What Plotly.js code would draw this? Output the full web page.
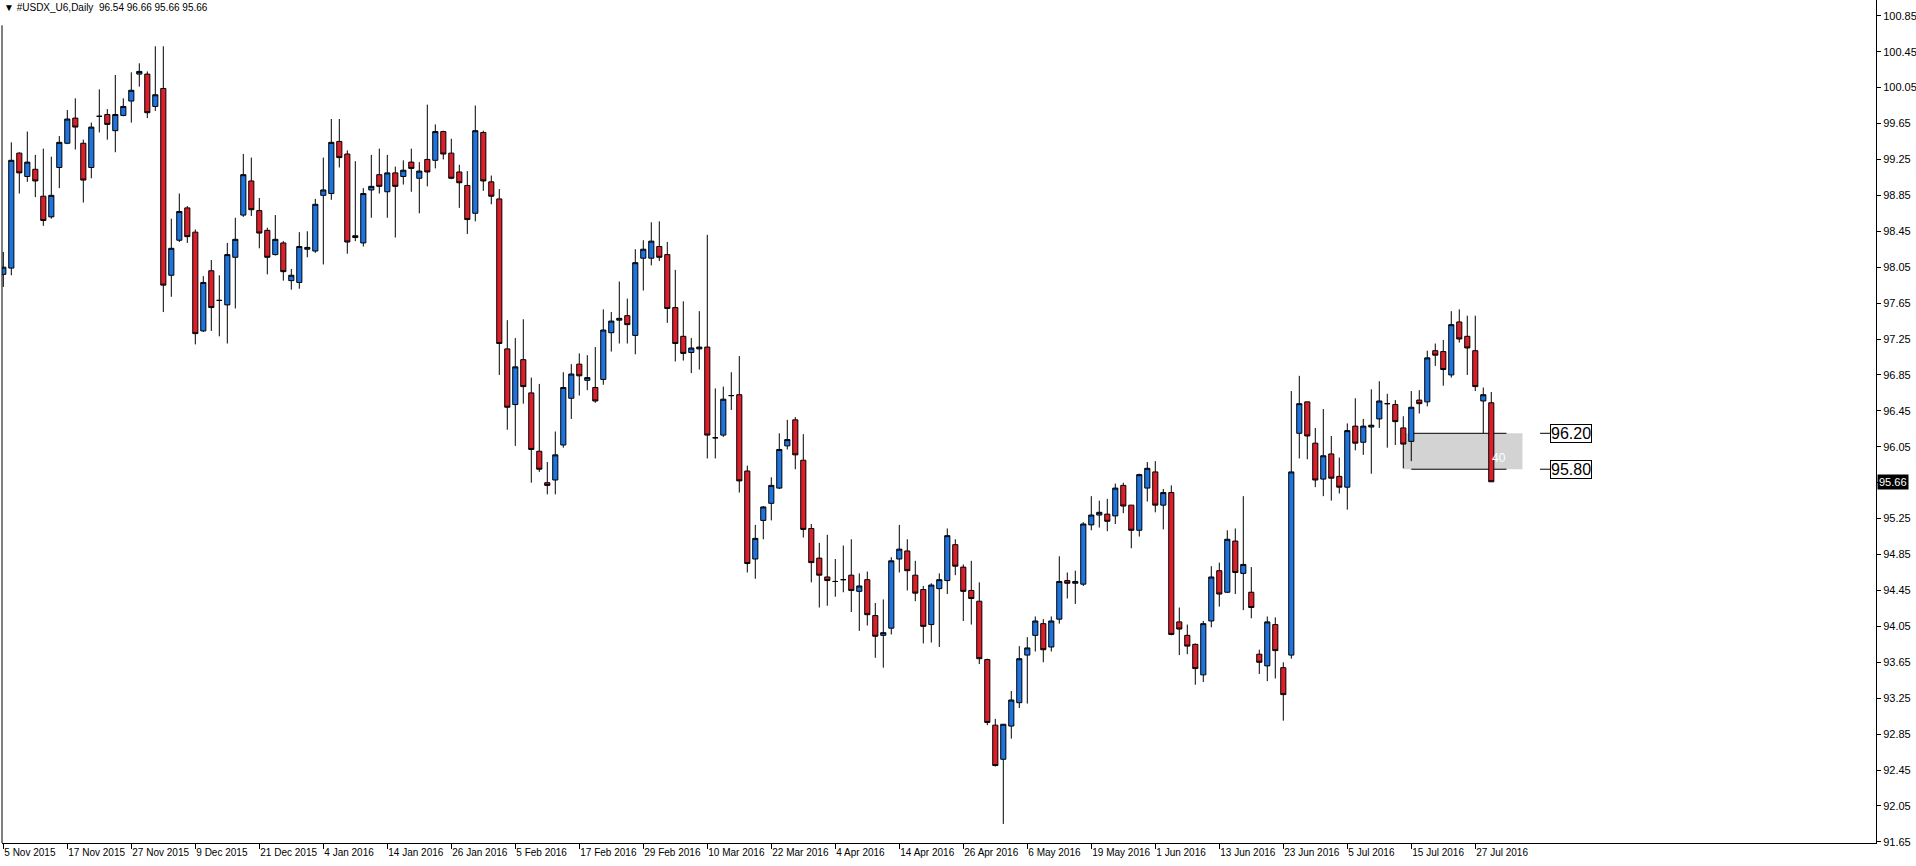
<!DOCTYPE html>
<html>
<head>
<meta charset="utf-8">
<script src="https://cdn.plot.ly/plotly-3.0.1.min.js"></script>
<style>
html,body{margin:0;padding:0;background:#fff;}
#chart{width:1916px;height:866px;}
</style>
</head>
<body>
<div id="chart"></div>
<script>
// Daily OHLC for #USDX_U6 (5 Nov 2015 .. 29 Jul 2016)
const openP = [
97.97,98.04,99.32,99.06,99.14,98.84,98.61,99.16,99.43,99.71,
99.43,99.16,99.73,99.75,99.57,99.74,99.90,100.20,100.20,99.84,
100.04,97.96,98.35,98.71,98.44,97.34,98.01,97.68,97.63,98.16,
98.63,99.01,98.68,98.46,98.19,98.32,97.90,97.88,98.25,98.23,
98.85,98.87,99.45,99.31,98.38,98.32,98.91,99.08,98.89,99.10,
99.06,99.22,99.04,99.25,99.24,99.56,99.32,99.11,98.96,98.65,
99.55,99.00,98.81,97.14,96.52,97.02,96.65,96.00,95.65,95.68,
96.07,96.59,96.97,96.79,96.71,96.80,97.32,97.46,97.51,97.29,
98.15,98.15,98.28,98.19,97.60,97.28,97.10,97.14,97.16,96.15,
96.18,96.62,96.63,95.78,94.80,95.23,95.42,95.59,96.06,96.35,
95.90,95.14,94.81,94.60,94.55,94.57,94.62,94.44,94.57,94.17,
93.95,94.03,94.80,94.89,94.62,94.46,94.07,94.47,94.56,94.96,
94.71,94.45,94.33,93.68,92.95,92.57,92.94,93.20,93.73,93.95,
94.08,93.82,94.13,94.56,94.53,94.52,95.18,95.29,95.30,95.28,
95.62,95.40,95.12,95.59,95.77,95.40,95.54,94.10,93.95,93.85,
93.51,94.11,94.67,94.43,95.00,94.64,94.43,93.74,93.61,94.07,
93.59,93.73,96.20,96.55,96.09,95.69,95.97,95.72,95.60,96.28,
96.10,96.27,96.36,96.53,96.52,96.26,96.11,96.57,96.55,97.12,
97.11,96.85,97.44,97.28,97.12,96.56,96.54
];
const highP = [
98.22,99.44,99.33,99.56,99.30,99.37,99.28,99.51,99.80,99.93,
99.47,99.66,100.03,99.81,100.19,99.93,100.22,100.32,100.23,100.51,
100.51,98.59,98.87,98.73,98.47,97.95,98.13,97.96,98.32,98.60,
99.31,99.27,98.82,98.49,98.63,98.34,98.03,98.44,98.45,98.81,
99.27,99.70,99.70,99.35,99.23,98.93,99.30,99.37,99.30,99.17,
99.24,99.37,99.22,99.86,99.64,99.57,99.48,99.19,99.12,99.85,
99.57,99.07,98.92,97.46,97.26,97.47,96.82,96.75,95.88,96.22,
96.88,96.97,97.09,97.07,97.16,97.58,97.55,97.89,97.70,98.25,
98.35,98.55,98.56,98.33,98.02,97.67,97.26,97.56,98.41,96.70,
96.72,96.88,97.06,95.84,95.18,95.39,95.71,96.20,96.35,96.38,
96.19,95.19,94.98,95.07,94.80,94.95,95.02,94.64,94.66,94.31,
94.35,94.82,95.18,95.02,94.78,94.50,94.53,94.64,95.14,95.02,
94.74,94.78,94.54,93.69,93.02,92.96,93.33,93.83,93.93,94.16,
94.13,94.16,94.83,94.65,94.67,95.21,95.50,95.45,95.47,95.64,
95.65,95.40,95.75,95.88,95.89,95.58,95.62,94.26,94.07,93.86,
94.11,94.72,94.76,95.12,95.14,95.50,94.71,93.79,94.16,94.15,
93.65,96.67,96.84,96.55,96.26,96.47,96.17,95.93,96.31,96.59,
96.36,96.69,96.78,96.64,96.57,96.39,96.67,96.68,97.12,97.20,
97.24,97.56,97.58,97.51,97.51,96.71,96.66
];
const lowP = [
97.83,97.96,98.87,99.00,98.83,98.51,98.59,98.93,99.42,99.36,
98.77,99.04,99.55,99.47,99.33,99.73,99.66,100.06,99.71,99.79,
97.55,97.72,98.33,98.32,97.19,97.33,97.34,97.28,97.20,97.59,
98.61,98.62,98.26,97.97,98.18,97.90,97.80,97.81,98.16,98.21,
98.08,98.80,99.16,98.20,98.34,98.28,98.60,98.87,98.60,98.38,
98.97,98.89,98.65,98.95,99.15,99.25,99.03,98.71,98.42,98.56,
98.90,98.75,96.85,96.24,96.06,96.53,95.65,95.77,95.52,95.52,
96.04,96.36,96.62,96.68,96.54,96.74,97.11,97.20,97.20,97.08,
97.79,98.07,98.12,97.43,97.00,97.01,96.87,96.91,95.92,95.92,
96.16,96.46,95.54,94.65,94.58,95.02,95.23,95.58,96.02,95.80,
95.04,94.54,94.26,94.28,94.38,94.43,94.21,94.00,94.06,93.70,
93.59,93.96,94.65,94.45,94.33,93.86,93.87,93.82,94.41,94.62,
94.11,94.07,93.63,92.95,92.49,91.85,92.80,93.14,93.19,93.77,
93.65,93.77,94.08,94.36,94.30,94.50,95.12,95.15,95.11,95.19,
95.31,94.92,95.05,95.44,95.32,95.13,93.95,93.73,93.74,93.40,
93.43,94.04,94.27,94.42,94.41,94.23,94.14,93.52,93.44,93.47,
93.00,93.69,95.92,95.91,95.60,95.50,95.45,95.53,95.35,96.01,
95.96,95.75,96.26,96.04,96.07,95.81,95.89,96.42,96.50,96.95,
96.73,96.82,97.21,96.85,96.67,96.20,95.66
];
const closeP = [
98.05,99.24,99.10,99.22,99.01,98.57,98.85,99.44,99.70,99.61,
99.02,99.61,99.73,99.64,99.75,99.84,100.02,100.23,99.77,99.97,
97.85,98.26,98.67,98.39,97.31,97.88,97.60,97.68,98.19,98.36,
99.08,98.69,98.43,98.16,98.36,98.00,97.96,98.28,98.27,98.75,
98.91,99.44,99.27,98.33,98.40,98.87,98.95,98.95,99.10,98.95,
99.13,99.15,99.12,99.11,99.56,99.31,99.04,98.99,98.58,99.57,
99.01,98.84,97.20,96.49,96.94,96.72,96.02,95.80,95.62,95.96,
96.71,96.86,96.84,96.82,96.56,97.35,97.45,97.48,97.41,98.10,
98.25,98.34,98.16,97.59,97.20,97.09,97.15,97.16,96.18,96.15,
96.58,96.62,95.67,94.75,95.03,95.38,95.62,96.02,96.13,95.96,
95.13,94.76,94.62,94.56,94.55,94.57,94.45,94.50,94.18,93.94,
93.98,94.78,94.91,94.67,94.42,94.05,94.51,94.57,95.06,94.72,
94.44,94.36,93.69,92.98,92.50,92.96,93.23,93.69,93.81,94.11,
93.79,94.11,94.55,94.53,94.55,95.19,95.29,95.32,95.22,95.59,
95.39,95.12,95.74,95.81,95.40,95.54,93.96,94.02,93.83,93.58,
94.08,94.60,94.41,95.02,94.65,94.74,94.26,93.65,94.10,93.78,
93.29,95.77,96.53,96.17,95.68,95.95,95.70,95.60,96.23,96.09,
96.28,96.29,96.56,96.53,96.33,96.08,96.49,96.53,97.04,97.07,
96.91,97.41,97.25,97.15,96.72,96.63,95.66
];
// date labels shown every 8 bars
const tickBars = [0,8,16,24,32,40,48,56,64,72,80,88,96,104,112,120,128,136,144,152,160,168,176,184];
const tickDates = ["5 Nov 2015","17 Nov 2015","27 Nov 2015","9 Dec 2015","21 Dec 2015","4 Jan 2016",
"14 Jan 2016","26 Jan 2016","5 Feb 2016","17 Feb 2016","29 Feb 2016","10 Mar 2016","22 Mar 2016",
"4 Apr 2016","14 Apr 2016","26 Apr 2016","6 May 2016","19 May 2016","1 Jun 2016","13 Jun 2016",
"23 Jun 2016","5 Jul 2016","15 Jul 2016","27 Jul 2016"];
const priceTicks = [91.65,92.05,92.45,92.85,93.25,93.65,94.05,94.45,94.85,95.25,95.65,96.05,96.45,96.85,97.25,97.65,98.05,98.45,98.85,99.25,99.65,100.05,100.45,100.85];
// zone levels drawn on the chart
const zoneHigh = 96.20;
const zoneLow = 95.80;
const lastPrice = 95.66;
const header = "#USDX_U6,Daily  96.54 96.66 95.66 95.66";

const barIdx = openP.map((_, i) => i);
const font = "Liberation Sans, Arial, sans-serif";

const trace = {
  type: 'candlestick',
  x: barIdx, open: openP, high: highP, low: lowP, close: closeP,
  increasing: {line: {color: '#000000', width: 1}, fillcolor: '#1E74E0'},
  decreasing: {line: {color: '#000000', width: 1}, fillcolor: '#DC1F2B'},
  whiskerwidth: 0,
  hoverinfo: 'skip',
  showlegend: false
};

const zoneStart = 175.0, zoneEnd = 189.9, lineStart = 176.0, lineEnd = 187.9;

const layout = {
  width: 1916, height: 866,
  margin: {l: 2, r: 40, t: 0, b: 23, pad: 0},
  paper_bgcolor: '#ffffff', plot_bgcolor: '#ffffff',
  boxgap: 0.2, boxgroupgap: 0.2,
  font: {family: font, size: 11, color: '#000'},
  xaxis: {
    range: [-0.1625, 234.09], rangeslider: {visible: false},
    showgrid: false, zeroline: false, showline: true, linecolor: '#000', linewidth: 1,
    ticks: 'outside', ticklen: 5, tickcolor: '#000', tickwidth: 1,
    tickmode: 'array', tickvals: tickBars, ticktext: tickDates,
    tickangle: 0, automargin: false,
    ticklabelposition: 'outside right',
    tickfont: {family: font, size: 10, color: '#000'}, fixedrange: true
  },
  yaxis: {
    side: 'right', range: [91.6376, 101.0252], automargin: false,
    showgrid: false, zeroline: false, showline: true, linecolor: '#000', linewidth: 1,
    ticks: 'outside', ticklen: 4, tickcolor: '#000', tickwidth: 1,
    tickmode: 'array', tickvals: priceTicks,
    ticktext: priceTicks.map(v => Math.abs(v - lastPrice) < 0.05 ? '' : v.toFixed(2)),
    tickfont: {family: font, size: 11, color: '#000'}, fixedrange: true
  },
  shapes: [
    {type: 'rect', xref: 'x', yref: 'y', x0: zoneStart, x1: zoneEnd, y0: zoneLow, y1: zoneHigh,
     fillcolor: '#D3D3D3', line: {width: 0}, layer: 'below'},
    {type: 'line', xref: 'x', yref: 'y', x0: lineStart, x1: lineEnd, y0: zoneHigh, y1: zoneHigh,
     line: {color: '#000', width: 1}, layer: 'below'},
    {type: 'line', xref: 'x', yref: 'y', x0: lineStart, x1: lineEnd, y0: zoneLow, y1: zoneLow,
     line: {color: '#000', width: 1}, layer: 'below'},
    {type: 'line', xref: 'x', yref: 'y', x0: 192.1, x1: 193.4, y0: zoneHigh, y1: zoneHigh,
     line: {color: '#000', width: 1}},
    {type: 'line', xref: 'x', yref: 'y', x0: 192.1, x1: 193.4, y0: zoneLow, y1: zoneLow,
     line: {color: '#000', width: 1}},
    {type: 'line', xref: 'paper', yref: 'paper', x0: 0, x1: 0, y0: 0, y1: 0.97,
     line: {color: '#000', width: 1}}
  ],
  annotations: [
    {xref: 'x', yref: 'y', x: 193.4, y: zoneHigh, xanchor: 'left', yanchor: 'middle',
     text: zoneHigh.toFixed(2), showarrow: false, bgcolor: '#fff', bordercolor: '#000', borderwidth: 1, borderpad: 0,
     font: {family: font, size: 16, color: '#000'}},
    {xref: 'x', yref: 'y', x: 193.4, y: zoneLow, xanchor: 'left', yanchor: 'middle',
     text: zoneLow.toFixed(2), showarrow: false, bgcolor: '#fff', bordercolor: '#000', borderwidth: 1, borderpad: 0,
     font: {family: font, size: 16, color: '#000'}},
    {xref: 'x', yref: 'y', x: 186.95, y: 95.92, xanchor: 'center', yanchor: 'middle',
     text: '40', showarrow: false, font: {family: font, size: 12, color: '#ffffff'}},
    {xref: 'paper', yref: 'y', x: 1, y: lastPrice, xanchor: 'left', yanchor: 'middle', xshift: 1,
     text: lastPrice.toFixed(2), showarrow: false, bgcolor: '#000', borderpad: 1,
     font: {family: font, size: 11, color: '#fff'}},
    {xref: 'paper', yref: 'paper', x: 0, y: 1, xanchor: 'left', yanchor: 'top', xshift: 0, yshift: 0,
     text: '\u25BC ' + header, showarrow: false, bgcolor: '#fff',
     font: {family: font, size: 10, color: '#000'}}
  ]
};

Plotly.newPlot('chart', [trace], layout, {displayModeBar: false, staticPlot: true});
</script>
</body>
</html>
